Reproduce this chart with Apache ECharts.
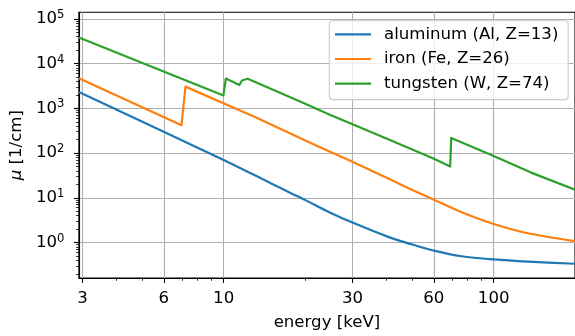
<!DOCTYPE html>
<html>
<head>
<meta charset="utf-8">
<script src="https://cdn.jsdelivr.net/npm/echarts@6/dist/echarts.min.js"></script>
<style>
html,body{margin:0;padding:0;background:#fff;}
#chart{width:575px;height:336px;}
</style>
</head>
<body>
<div id="chart"></div>
<script>
// ---- data (energy in keV, mu in 1/cm) ----
const alEnergy = [2.91, 10, 15, 17.6, 20, 24.6, 30, 40.9, 50, 60, 76, 100, 134, 200];
const alMu     = [2308, 70.3, 20.9, 13.0, 8.98, 4.77, 2.79, 1.32, 0.90, 0.659, 0.494, 0.418, 0.373, 0.335];

const feEnergy = [2.91, 6.98, 7.22, 13.24, 22.3, 30, 40.9, 50, 59.8, 76.1, 100, 134, 200];
const feMu     = [4677, 420, 3055, 619, 142, 64.1, 26.5, 15.0, 9.2, 4.76, 2.60, 1.61, 1.07];

const wEnergy = [2.91, 9.98, 10.19, 11.43, 11.69, 11.89, 12.27, 19.1, 24.6, 30, 41.5, 59.8, 69.0, 69.6, 100, 136.8, 200];
const wMu     = [38450, 1941, 4638, 3311, 4198, 4130, 4570, 1435, 731, 442, 193, 75.9, 50.0, 218, 85.7, 37.0, 15.2];

const seriesNames = ['aluminum (Al, Z=13)', 'iron (Fe, Z=26)', 'tungsten (W, Z=74)'];
const seriesColors = ['#1f77b4', '#ff7f0e', '#2ca02c'];

const xMajorTicks = [3, 6, 10, 30, 60, 100];
const xMinorTicks = [4, 5, 7, 8, 9, 20, 40, 50, 70, 80, 90];
const yMajorTicks = [1, 10, 100, 1000, 10000, 100000];
const yMinorTicks = [];
[0.1, 1, 10, 100, 1000, 10000].forEach(function (d) {
  for (let k = 2; k <= 9; k++) yMinorTicks.push(+(d * k).toPrecision(3));
});

const xMin = 2.91, xMax = 200, yMin = 0.161, yMax = 140100;
// -----------------------------------------------------------------

const FONT = 'DejaVu Sans';
const FS = 16.6;

function pairs(xs, ys) { return xs.map(function (x, i) { return [x, ys[i]]; }); }

const chart = echarts.init(document.getElementById('chart'), null, {renderer: 'canvas'});

const axisColor = '#000';

// iron: sharp edge part drawn straight, smooth tail (from 30 keV) drawn smoothed
const feSplit = feEnergy.indexOf(30);
const feAll = pairs(feEnergy, feMu);

const seriesDefs = [
  {name: seriesNames[0], color: seriesColors[0], data: pairs(alEnergy, alMu), smooth: 0.3},
  {name: seriesNames[1], color: seriesColors[1], data: feAll.slice(0, feSplit + 1), smooth: false},
  {name: seriesNames[1], color: seriesColors[1], data: feAll.slice(feSplit), smooth: 0.3},
  {name: seriesNames[2], color: seriesColors[2], data: pairs(wEnergy, wMu), smooth: false}
];

const option = {
  animation: false,
  backgroundColor: '#fff',
  textStyle: {fontFamily: FONT},
  grid: {
    left: 77.7, top: 12.3, right: -2.4, bottom: 52,
    show: true, borderColor: '#000', borderWidth: 1.1, backgroundColor: 'transparent',
    containLabel: false
  },
  legend: {
    orient: 'vertical',
    left: 329.3, top: 20.7,
    padding: [3.6, 9.8, 5.9, 5.7],
    icon: 'rect',
    itemWidth: 36, itemHeight: 2.2, itemGap: 4.7,
    backgroundColor: 'rgba(255,255,255,0.8)',
    borderColor: '#cccccc', borderWidth: 1.1, borderRadius: 3,
    textStyle: {fontFamily: FONT, fontSize: FS, color: '#000', lineHeight: 20, padding: [0, 0, 0, 8]},
    data: seriesNames
  },
  xAxis: [
    {
      type: 'log', logBase: 10, min: xMin, max: xMax,
      name: 'energy [keV]', nameLocation: 'middle', nameGap: 36,
      nameTextStyle: {fontFamily: FONT, fontSize: FS, color: '#000'},
      axisLine: {show: true, lineStyle: {color: axisColor, width: 1.1}},
      axisTick: {show: true, customValues: xMajorTicks, length: 4.9, lineStyle: {color: axisColor, width: 1.1}},
      axisLabel: {
        customValues: xMajorTicks, margin: 12, fontFamily: FONT, fontSize: FS, color: '#000', lineHeight: 17,
        formatter: function (v) { return String(Math.round(v)); }
      },
      splitLine: {show: true, lineStyle: {color: '#b0b0b0', width: 1.1}},
      minorTick: {show: false}, minorSplitLine: {show: false}
    },
    {
      type: 'log', logBase: 10, min: xMin, max: xMax, position: 'bottom',
      axisLine: {show: false},
      axisTick: {show: true, customValues: xMinorTicks, length: 2.8, lineStyle: {color: axisColor, width: 0.8}},
      axisLabel: {show: false, customValues: xMinorTicks},
      splitLine: {show: false}
    }
  ],
  yAxis: [
    {
      type: 'log', logBase: 10, min: yMin, max: yMax,
      name: '{i|μ} [1/cm]', nameLocation: 'middle', nameGap: 50,
      nameTextStyle: {
        fontFamily: FONT, fontSize: FS, color: '#000',
        rich: {i: {fontFamily: FONT, fontSize: FS, fontStyle: 'italic', color: '#000'}}
      },
      axisLine: {show: true, lineStyle: {color: axisColor, width: 1.1}},
      axisTick: {show: true, customValues: yMajorTicks, length: 4.9, lineStyle: {color: axisColor, width: 1.1}},
      axisLabel: {
        customValues: yMajorTicks, margin: 14.5, color: '#000',
        formatter: function (v) { return '{b|10}{s|' + Math.round(Math.log10(v)) + '}'; },
        rich: {
          b: {fontFamily: FONT, fontSize: FS, lineHeight: 17, verticalAlign: 'bottom', color: '#000'},
          s: {fontFamily: FONT, fontSize: 11.6, lineHeight: 12, verticalAlign: 'bottom', padding: [0, 0, 6.5, 0], color: '#000'}
        }
      },
      splitLine: {show: true, lineStyle: {color: '#b0b0b0', width: 1.1}},
      minorTick: {show: false}, minorSplitLine: {show: false}
    },
    {
      type: 'log', logBase: 10, min: yMin, max: yMax, position: 'left',
      axisLine: {show: false},
      axisTick: {show: true, customValues: yMinorTicks, length: 2.8, lineStyle: {color: axisColor, width: 0.8}},
      axisLabel: {show: false, customValues: yMinorTicks},
      splitLine: {show: false}
    }
  ],
  series: seriesDefs.map(function (s) {
    return {
      name: s.name, type: 'line', xAxisIndex: 0, yAxisIndex: 0,
      data: s.data, symbol: 'none', showSymbol: false, smooth: s.smooth,
      color: s.color,
      lineStyle: {color: s.color, width: 2.2, join: 'round', cap: 'butt'},
      itemStyle: {color: s.color},
      z: 3
    };
  })
};
chart.setOption(option);
</script>
</body>
</html>
